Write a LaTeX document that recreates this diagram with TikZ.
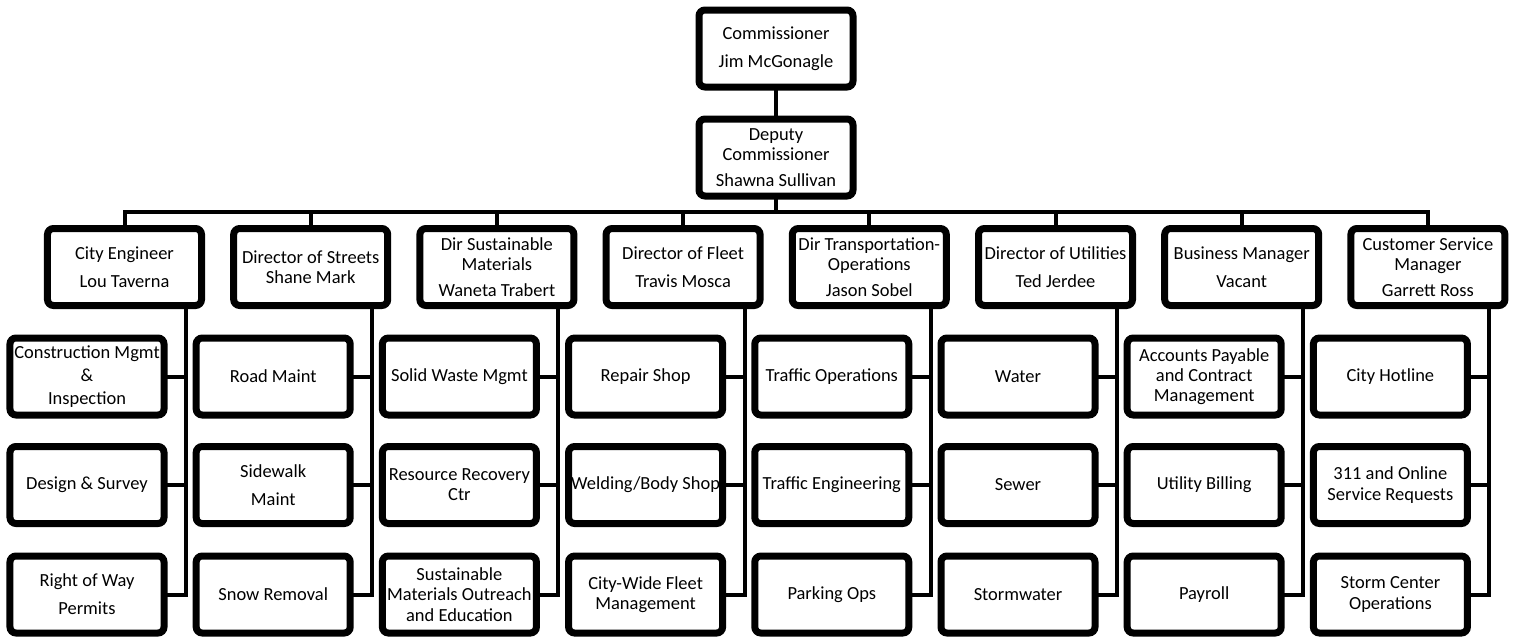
\documentclass[tikz,border=0pt]{standalone}
\usepackage{fontspec}
\setmainfont{Carlito}
\usepackage{tikz}
\usetikzlibrary{positioning}
\tikzset{
  orgbox/.style={draw, rounded corners=1.2mm, line width=1.4mm, fill=white, minimum width=3.08cm, minimum height=1.54cm, inner sep=0pt, align=center, font=\fontsize{10.5}{11.5}\selectfont},
  subbox/.style={orgbox},
  link/.style={line width=0.8mm, line cap=rect}
}

\begin{document}
\begin{tikzpicture}[x=0.2mm, y=-0.2mm]
      \useasboundingbox (0,0) rectangle (1516,637);
      % top of the chart
      \node[orgbox] (comm) at (776,48.5) {Commissioner\\[4.5pt]Jim McGonagle};
      \node[orgbox] (dep) at (776,157.5) {Deputy\\Commissioner\\[3pt]Shawna Sullivan};
      % directors
      \node[orgbox] (eng) at (124.5,267) {City Engineer\\[4.5pt]Lou Taverna};
      \node[orgbox] (str) at (310.7,267) {Director of Streets\\Shane Mark};
      \node[orgbox] (sus) at (496.9,267) {Dir Sustainable\\Materials\\[3pt]Waneta Trabert};
      \node[orgbox] (flt) at (683.1,267) {Director of Fleet\\[4.5pt]Travis Mosca};
      \node[orgbox] (trn) at (869.3,267) {Dir Transportation-\\Operations\\[3pt]Jason Sobel};
      \node[orgbox] (utl) at (1055.5,267) {Director of Utilities\\[4.5pt]Ted Jerdee};
      \node[orgbox] (bus) at (1241.7,267) {Business Manager\\[4.5pt]Vacant};
      \node[orgbox] (csm) at (1427.9,267) {Customer Service\\Manager\\[3pt]Garrett Ross};
      % units under each director
      \node[subbox] (eng1) at (87,376.5) {Construction Mgmt\\[1.5pt]\&\\[1.5pt]Inspection};
      \node[subbox] (eng2) at (87,485) {Design \& Survey};
      \node[subbox] (eng3) at (87,594.5) {Right of Way\\[4.5pt]Permits};
      \node[subbox] (str1) at (273.2,376.5) {Road Maint};
      \node[subbox] (str2) at (273.2,485) {Sidewalk\\[4.5pt]Maint};
      \node[subbox] (str3) at (273.2,594.5) {Snow Removal};
      \node[subbox] (sus1) at (459.4,376.5) {Solid Waste Mgmt};
      \node[subbox] (sus2) at (459.4,485) {Resource Recovery\\Ctr};
      \node[subbox] (sus3) at (459.4,594.5) {Sustainable\\Materials Outreach\\and Education};
      \node[subbox] (flt1) at (645.6,376.5) {Repair Shop};
      \node[subbox] (flt2) at (645.6,485) {Welding/Body Shop};
      \node[subbox] (flt3) at (645.6,594.5) {City-Wide Fleet\\Management};
      \node[subbox] (trn1) at (831.8,376.5) {Traffic Operations};
      \node[subbox] (trn2) at (831.8,485) {Traffic Engineering};
      \node[subbox] (trn3) at (831.8,594.5) {Parking Ops};
      \node[subbox] (utl1) at (1018,376.5) {Water};
      \node[subbox] (utl2) at (1018,485) {Sewer};
      \node[subbox] (utl3) at (1018,594.5) {Stormwater};
      \node[subbox] (bus1) at (1204.2,376.5) {Accounts Payable\\and Contract\\Management};
      \node[subbox] (bus2) at (1204.2,485) {Utility Billing};
      \node[subbox] (bus3) at (1204.2,594.5) {Payroll};
      \node[subbox] (csm1) at (1390.4,376.5) {City Hotline};
      \node[subbox] (csm2) at (1390.4,485) {311 and Online\\Service Requests};
      \node[subbox] (csm3) at (1390.4,594.5) {Storm Center\\Operations};
      % spines
      \coordinate (engv) at (186,300);
      \coordinate (strv) at (372.2,300);
      \coordinate (susv) at (558.4,300);
      \coordinate (fltv) at (744.6,300);
      \coordinate (trnv) at (930.8,300);
      \coordinate (utlv) at (1117,300);
      \coordinate (busv) at (1303.2,300);
      \coordinate (csmv) at (1489.4,300);
      \begin{scope}[on background layer/.try]
      \draw[link] (comm) -- (dep);
      \draw[link] (dep.south) -- ++(0,12) -| (eng.north);
      \draw[link] (dep.south) -- ++(0,12) -| (str.north);
      \draw[link] (dep.south) -- ++(0,12) -| (sus.north);
      \draw[link] (dep.south) -- ++(0,12) -| (flt.north);
      \draw[link] (dep.south) -- ++(0,12) -| (trn.north);
      \draw[link] (dep.south) -- ++(0,12) -| (utl.north);
      \draw[link] (dep.south) -- ++(0,12) -| (bus.north);
      \draw[link] (dep.south) -- ++(0,12) -| (csm.north);
      \draw[link] (eng.south -| engv) |- (eng3.east);
      \draw[link] (eng1.east) -- (eng1.east -| engv);
      \draw[link] (eng2.east) -- (eng2.east -| engv);
      \draw[link] (str.south -| strv) |- (str3.east);
      \draw[link] (str1.east) -- (str1.east -| strv);
      \draw[link] (str2.east) -- (str2.east -| strv);
      \draw[link] (sus.south -| susv) |- (sus3.east);
      \draw[link] (sus1.east) -- (sus1.east -| susv);
      \draw[link] (sus2.east) -- (sus2.east -| susv);
      \draw[link] (flt.south -| fltv) |- (flt3.east);
      \draw[link] (flt1.east) -- (flt1.east -| fltv);
      \draw[link] (flt2.east) -- (flt2.east -| fltv);
      \draw[link] (trn.south -| trnv) |- (trn3.east);
      \draw[link] (trn1.east) -- (trn1.east -| trnv);
      \draw[link] (trn2.east) -- (trn2.east -| trnv);
      \draw[link] (utl.south -| utlv) |- (utl3.east);
      \draw[link] (utl1.east) -- (utl1.east -| utlv);
      \draw[link] (utl2.east) -- (utl2.east -| utlv);
      \draw[link] (bus.south -| busv) |- (bus3.east);
      \draw[link] (bus1.east) -- (bus1.east -| busv);
      \draw[link] (bus2.east) -- (bus2.east -| busv);
      \draw[link] (csm.south -| csmv) |- (csm3.east);
      \draw[link] (csm1.east) -- (csm1.east -| csmv);
      \draw[link] (csm2.east) -- (csm2.east -| csmv);
      \end{scope}
    \end{tikzpicture}
\end{document}
